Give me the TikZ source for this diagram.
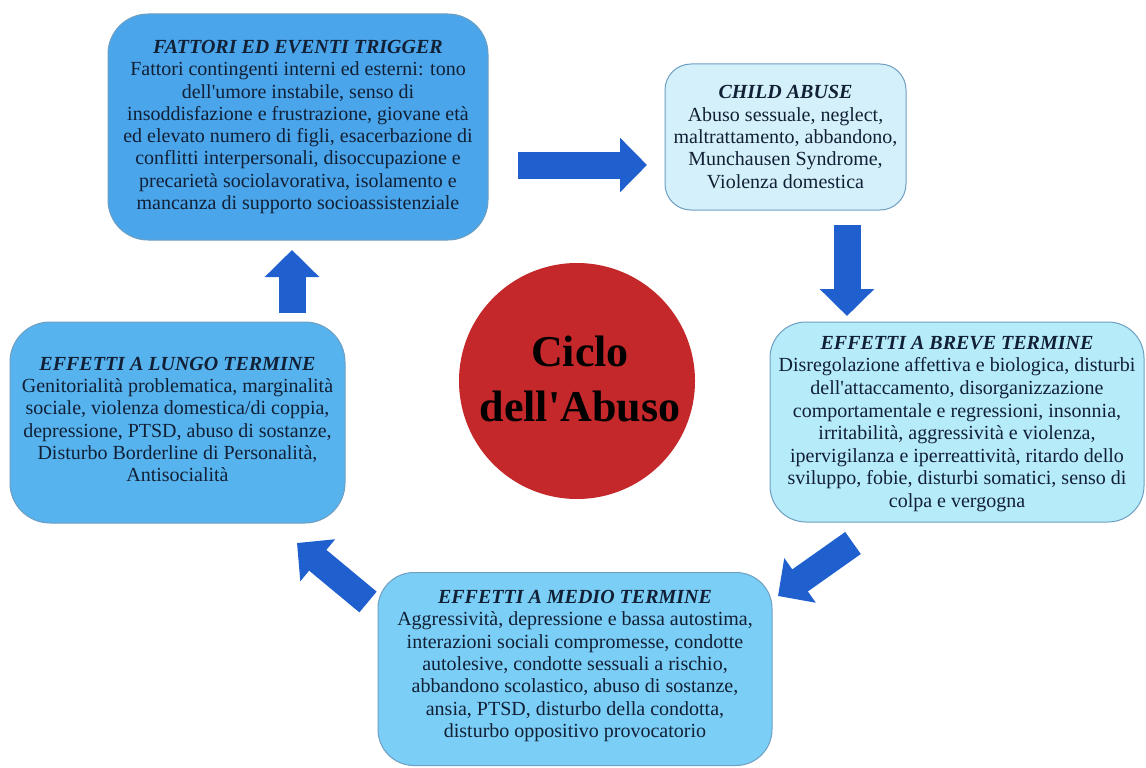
\documentclass[tikz,border=0pt]{standalone}
\usepackage{fontspec}
\setmainfont{Liberation Serif}[Ligatures=TeXOff]
\usetikzlibrary{arrows.meta}
\definecolor{boxA}{HTML}{4AA5EA}
\definecolor{boxB}{HTML}{D4F1FB}
\definecolor{boxC}{HTML}{B6EBF9}
\definecolor{boxD}{HTML}{56B3EE}
\definecolor{boxE}{HTML}{7BCEF6}
\definecolor{edgeC}{HTML}{6E9FC2}
\definecolor{txtC}{HTML}{122036}
\definecolor{arrC}{HTML}{1F60CE}
\definecolor{circC}{HTML}{C4282A}
\tikzset{
  infobox/.style={draw=edgeC, line width=1pt, align=center, inner sep=0pt,
    text=txtC, font=\fontsize{20}{22.3}\selectfont},
  boxtext/.style={align=center, inner sep=0pt, text=txtC,
    font=\fontsize{20}{22.3}\selectfont},
  bigarrow/.style={draw=arrC, line width=27pt,
    -{Triangle[length=27pt,width=53pt]}},
}
\newcommand{\boxtitle}[1]{\textbf{\textit{#1}}}
\begin{document}
\begin{tikzpicture}[x=1pt,y=-1pt]
\useasboundingbox (0,0) rectangle (1146,768);
\fill[white] (0,0) rectangle (1146,768);

\node[infobox, fill=boxA, rounded corners=40pt, minimum width=380pt, minimum height=226pt] (trigger) at (298,127)
{\boxtitle{FATTORI ED EVENTI TRIGGER}\\
Fattori contingenti interni ed esterni: tono\\
dell'umore instabile, senso di\\
insoddisfazione e frustrazione, giovane età\\
ed elevato numero di figli, esacerbazione di\\
conflitti interpersonali, disoccupazione e\\
precarietà sociolavorativa, isolamento e\\
mancanza di supporto socioassistenziale};

\node[infobox, fill=boxB, rounded corners=26pt, minimum width=241pt, minimum height=146pt] (child) at (785.5,137)
{\boxtitle{CHILD ABUSE}\\
Abuso sessuale, neglect,\\
maltrattamento, abbandono,\\
Munchausen Syndrome,\\
Violenza domestica};

\node[infobox, fill=boxC, rounded corners=36pt, minimum width=374pt, minimum height=200pt] (breve) at (957,422) {};
\node[boxtext, font=\fontsize{20}{22.6}\selectfont, yshift=-2pt] (brevetext) at (breve.center)
{\boxtitle{EFFETTI A BREVE TERMINE}\\
Disregolazione affettiva e biologica, disturbi\\
dell'attaccamento, disorganizzazione\\
comportamentale e regressioni, insonnia,\\
irritabilità, aggressività e violenza,\\
ipervigilanza e iperreattività, ritardo dello\\
sviluppo, fobie, disturbi somatici, senso di\\
colpa e vergogna};

\node[infobox, fill=boxE, rounded corners=36pt, minimum width=394pt, minimum height=193pt] (medio) at (575,669) {};
\node[boxtext, yshift=3pt] (mediotext) at (medio.center)
{\boxtitle{EFFETTI A MEDIO TERMINE}\\
Aggressività, depressione e bassa autostima,\\
interazioni sociali compromesse, condotte\\
autolesive, condotte sessuali a rischio,\\
abbandono scolastico, abuso di sostanze,\\
ansia, PTSD, disturbo della condotta,\\
disturbo oppositivo provocatorio};

\node[infobox, fill=boxD, rounded corners=40pt, minimum width=335pt, minimum height=201pt] (lungo) at (177.5,422.5) {};
\node[boxtext, yshift=3pt] (lungotext) at (lungo.center)
{\boxtitle{EFFETTI A LUNGO TERMINE}\\
Genitorialità problematica, marginalità\\
sociale, violenza domestica/di coppia,\\
depressione, PTSD, abuso di sostanze,\\
Disturbo Borderline di Personalità,\\
Antisocialità};

\node[circle, fill=circC, minimum size=236pt, inner sep=0pt] (ciclo) at (577,381) {};
\node[align=center, inner sep=0pt, font=\fontsize{44}{55}\selectfont\bfseries, text=black,
  xshift=3pt, yshift=2pt] (ciclotext) at (ciclo.center)
{Ciclo\\dell'Abuso};

\coordinate (a1s) at (518,165); \coordinate (a1e) at (647,165);
\coordinate (a2s) at (847,225); \coordinate (a2e) at (847,316);
\coordinate (a3s) at (853,543); \coordinate (a3e) at (778,596);
\coordinate (a4s) at (368,602); \coordinate (a4e) at (297,543);
\coordinate (a5s) at (292,313); \coordinate (a5e) at (292,250);

\draw[bigarrow] (a1s) -- (a1e);
\draw[bigarrow] (a2s) -- (a2e);
\draw[bigarrow] (a3s) -- (a3e);
\draw[bigarrow] (a4s) -- (a4e);
\draw[bigarrow] (a5s) -- (a5e);
\end{tikzpicture}
\end{document}
